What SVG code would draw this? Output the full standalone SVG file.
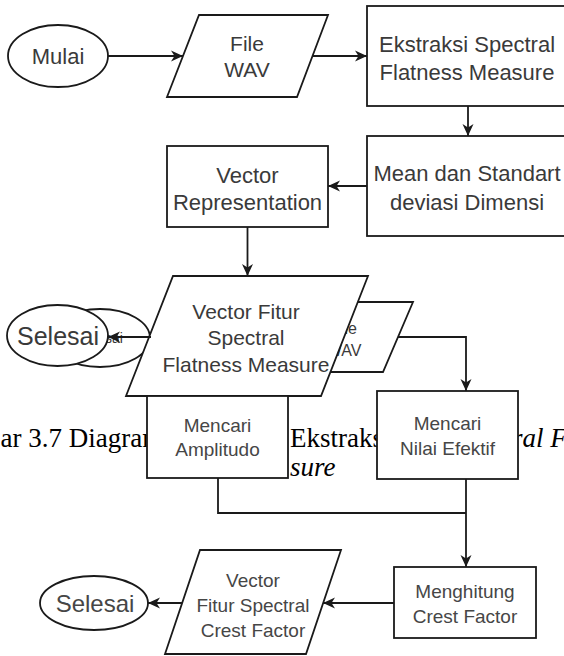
<svg xmlns="http://www.w3.org/2000/svg" width="564" height="656" viewBox="0 0 564 656">
  <style>
    .shape { fill: #ffffff; stroke: #1a1a1a; stroke-width: 1.8; }
    .edge { fill: none; stroke: #1a1a1a; stroke-width: 1.8; }
    .lbl { font-family: "Liberation Sans", Arial, sans-serif; fill: #3a3a3a; text-anchor: middle; }
    .top { font-size: 22px; }
    .mid { font-size: 21px; }
    .low { font-size: 19px; fill: #464646; }
    .cap { font-family: "Liberation Serif", "Times New Roman", serif; font-size: 27px; fill: #000000; }
    .it { font-style: italic; }
  </style>
  <defs>
    <marker id="arrow" markerUnits="userSpaceOnUse" markerWidth="14" markerHeight="12" refX="12" refY="6" orient="auto">
      <path d="M0,0.5 L12,6 L0,11.5 L3.5,6 z" fill="#1a1a1a"/>
    </marker>
  </defs>

  <rect width="564" height="656" fill="#ffffff"/>

  <!-- caption text, partly covered by the boxes drawn over it -->
  <g id="caption">
    <text class="cap" x="0.5" y="447">ar 3.7 Diagram</text>
    <text class="cap" x="290" y="447">Ekstraks</text>
    <text class="cap it" x="512" y="447">ral F</text>
    <text class="cap it" x="290" y="476">sure</text>
  </g>

  <!-- upper flow: feature extraction -->
  <g id="mulai">
    <ellipse class="shape" cx="58" cy="56" rx="50" ry="31"/>
    <text class="lbl" x="58" y="64" style="font-size:22px">Mulai</text>
  </g>
  <g id="file-wav">
    <polygon class="shape" points="199,15 328,15 297,97 167,97"/>
    <text class="lbl" x="247" y="51" style="font-size:21px">File</text>
    <text class="lbl" x="247" y="77" style="font-size:21px">WAV</text>
  </g>
  <g id="ekstraksi">
    <rect class="shape" x="367" y="6" width="200" height="100"/>
    <text class="lbl top" x="467" y="52">Ekstraksi Spectral</text>
    <text class="lbl top" x="467" y="80">Flatness Measure</text>
  </g>
  <g id="mean-std">
    <rect class="shape" x="367" y="136" width="200" height="100"/>
    <text class="lbl top" x="467" y="181">Mean dan Standart</text>
    <text class="lbl top" x="467" y="210">deviasi Dimensi</text>
  </g>
  <g id="vector-rep">
    <rect class="shape" x="167" y="146" width="161" height="81"/>
    <text class="lbl top" x="247.5" y="183">Vector</text>
    <text class="lbl top" x="247.5" y="210">Representation</text>
  </g>

  <!-- end ellipse lying behind -->
  <g id="selesai-back">
    <ellipse class="shape" cx="100" cy="338" rx="50" ry="29"/>
    <text class="lbl" x="100" y="343" style="font-size:14px">Selesai</text>
  </g>
  <!-- input parallelogram lying behind -->
  <g id="file-wav-back">
    <polygon class="shape" points="308,302 413,302 383,372 278,372"/>
    <text class="lbl" x="344" y="334" style="font-size:16px">File</text>
    <text class="lbl" x="344" y="356" style="font-size:16px">WAV</text>
  </g>

  <g id="vector-fitur-sfm">
    <polygon class="shape" points="173,276 368,276 321,396 126,396"/>
    <text class="lbl mid" x="246" y="319">Vector Fitur</text>
    <text class="lbl mid" x="246" y="345">Spectral</text>
    <text class="lbl mid" x="246" y="372">Flatness Measure</text>
  </g>
  <g id="selesai-1">
    <ellipse class="shape" cx="57.5" cy="335.5" rx="50.5" ry="30.5"/>
    <text class="lbl" x="58" y="344.5" style="font-size:25px">Selesai</text>
  </g>

  <!-- lower flow: crest factor -->
  <g id="mencari-amplitudo">
    <rect class="shape" x="147" y="396" width="141" height="82"/>
    <text class="lbl low" x="217.5" y="432">Mencari</text>
    <text class="lbl low" x="217.5" y="456">Amplitudo</text>
  </g>
  <g id="mencari-nilai-efektif">
    <rect class="shape" x="377" y="391" width="141" height="88"/>
    <text class="lbl low" x="447.5" y="430">Mencari</text>
    <text class="lbl low" x="447.5" y="455">Nilai Efektif</text>
  </g>
  <g id="crest-factor">
    <rect class="shape" x="394" y="567" width="142" height="71"/>
    <text class="lbl low" x="465" y="598">Menghitung</text>
    <text class="lbl low" x="465" y="623">Crest Factor</text>
  </g>
  <g id="vector-fitur-scf">
    <polygon class="shape" points="200,550 341,550 306,654 165,654"/>
    <text class="lbl low" x="253" y="587">Vector</text>
    <text class="lbl low" x="253" y="612">Fitur Spectral</text>
    <text class="lbl low" x="253" y="637">Crest Factor</text>
  </g>
  <g id="selesai-2">
    <ellipse class="shape" cx="94" cy="603" rx="54" ry="27"/>
    <text class="lbl low" x="95" y="611.5" style="font-size:24px">Selesai</text>
  </g>

  <g id="connectors">
    <line class="edge" x1="108" y1="56" x2="183" y2="56" marker-end="url(#arrow)"/>
    <line class="edge" x1="312" y1="56" x2="367" y2="56" marker-end="url(#arrow)"/>
    <line class="edge" x1="468" y1="106" x2="468" y2="136" marker-end="url(#arrow)"/>
    <line class="edge" x1="367" y1="186" x2="328" y2="186" marker-end="url(#arrow)"/>
    <line class="edge" x1="247.5" y1="227" x2="247.5" y2="276" marker-end="url(#arrow)"/>
    <line class="edge" x1="151" y1="337" x2="108" y2="337" marker-end="url(#arrow)"/>
    <polyline class="edge" points="398,337 466,337 466,391" marker-end="url(#arrow)"/>
    <polyline class="edge" points="218,478 218,513 466,513"/>
    <line class="edge" x1="466" y1="479" x2="466" y2="567" marker-end="url(#arrow)"/>
    <line class="edge" x1="394" y1="603" x2="323" y2="603" marker-end="url(#arrow)"/>
    <line class="edge" x1="182" y1="603" x2="148" y2="603" marker-end="url(#arrow)"/>
  </g>
</svg>
